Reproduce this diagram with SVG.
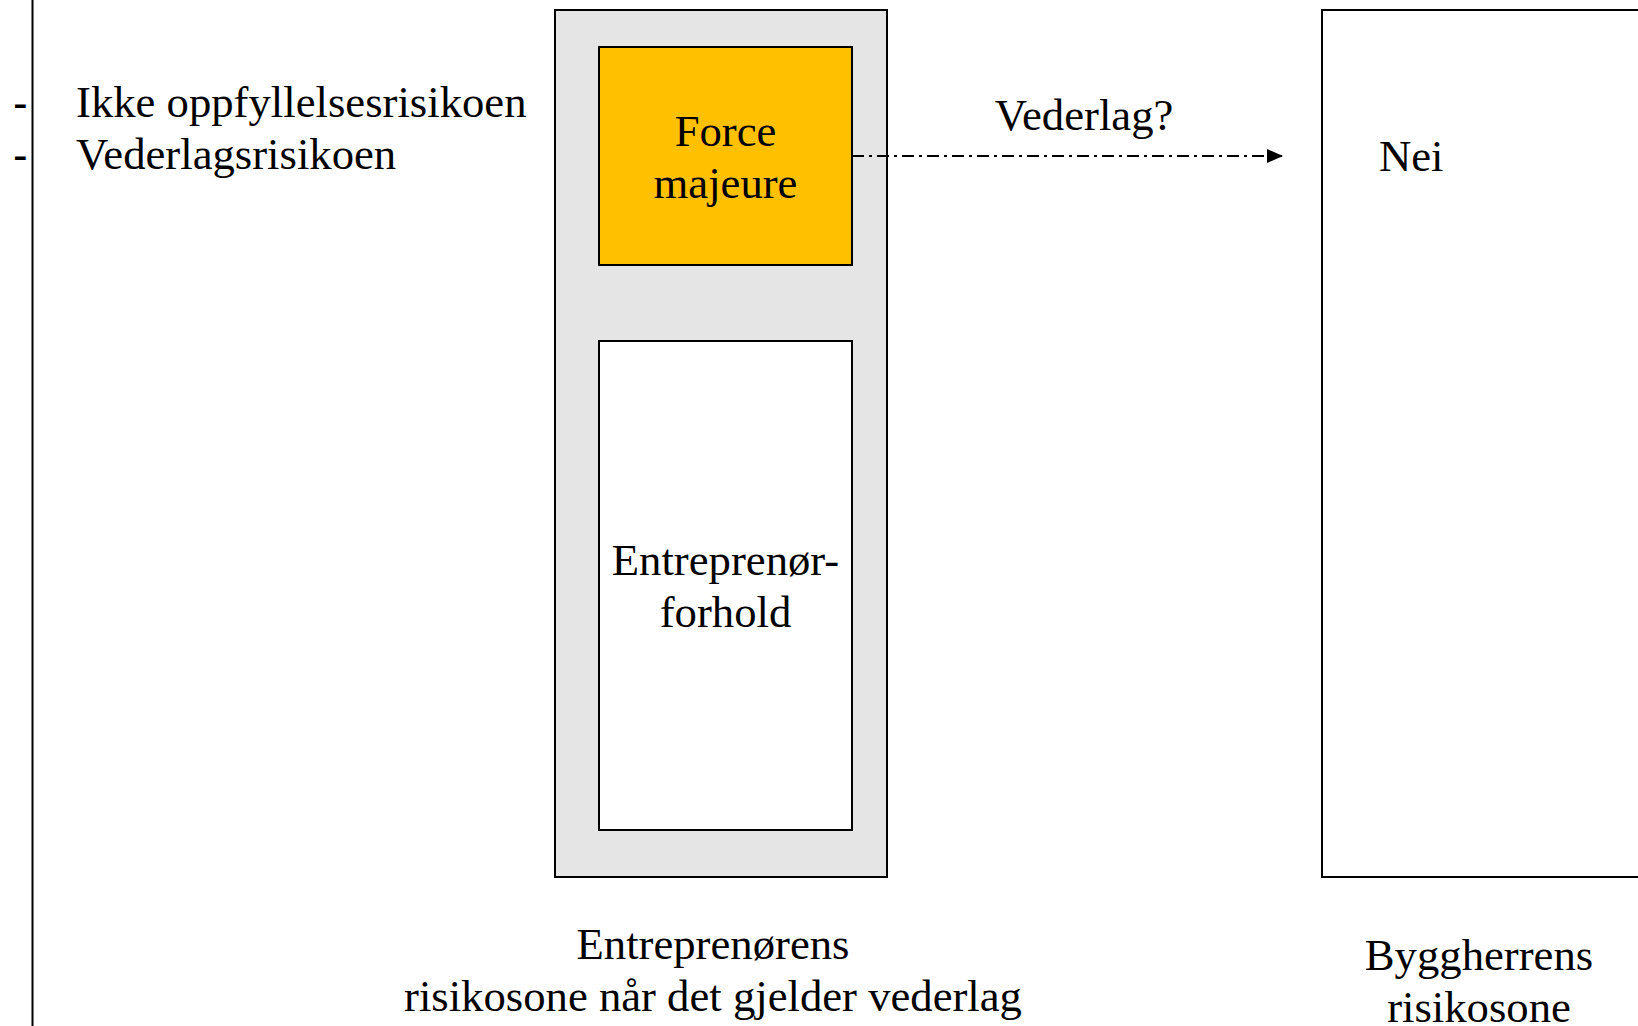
<svg xmlns="http://www.w3.org/2000/svg" width="1638" height="1026" viewBox="0 0 1638 1026">
<defs>
<style>
.t{font-family:"Liberation Serif","Times New Roman",serif;font-size:44.7px;fill:#000}
.c{text-anchor:middle}
.d{font-family:"Liberation Sans",Arial,sans-serif;font-size:44px;fill:#000}
.box{stroke:#000;stroke-width:2}
</style>
<marker id="ah" markerWidth="16" markerHeight="14" refX="15" refY="7" orient="auto" markerUnits="userSpaceOnUse">
<path d="M0,0 L16,7 L0,14 Z" fill="#000"/>
</marker>
</defs>
<rect width="1638" height="1026" fill="#fff"/>
<g id="left">
<line x1="32.5" y1="0" x2="32.5" y2="1026" stroke="#000" stroke-width="2"/>
<text class="d" x="13" y="118">-</text>
<text class="d" x="13" y="170">-</text>
<text class="t" x="76" y="117">Ikke oppfyllelsesrisikoen</text>
<text class="t" x="76" y="169">Vederlagsrisikoen</text>
</g>
<g id="entreprenor-zone">
<rect class="box" x="555" y="10" width="332" height="867" fill="#e5e5e5"/>
<text class="t c" x="713" y="959">Entreprenørens</text>
<text class="t c" x="713" y="1011">risikosone når det gjelder vederlag</text>
</g>
<g id="force-majeure">
<rect class="box" x="599" y="47" width="253" height="218" fill="#ffc000"/>
<text class="t c" x="725.5" y="146">Force</text>
<text class="t c" x="725.5" y="198">majeure</text>
</g>
<g id="entreprenor-forhold">
<rect class="box" x="599" y="341" width="253" height="489" fill="#fff"/>
<text class="t c" x="725.5" y="575">Entreprenør-</text>
<text class="t c" x="725.5" y="627">forhold</text>
</g>
<g id="byggherre-zone">
<rect class="box" x="1322" y="10" width="330" height="867" fill="#fff"/>
<text class="t" x="1379" y="171">Nei</text>
<text class="t c" x="1479" y="970">Byggherrens</text>
<text class="t c" x="1479" y="1022">risikosone</text>
</g>
<g id="connectors">
<line x1="852" y1="156" x2="1282" y2="156" stroke="#000" stroke-width="2" stroke-dasharray="12 5 3 5" marker-end="url(#ah)"/>
<text class="t c" x="1084" y="130">Vederlag?</text>
</g>
</svg>
